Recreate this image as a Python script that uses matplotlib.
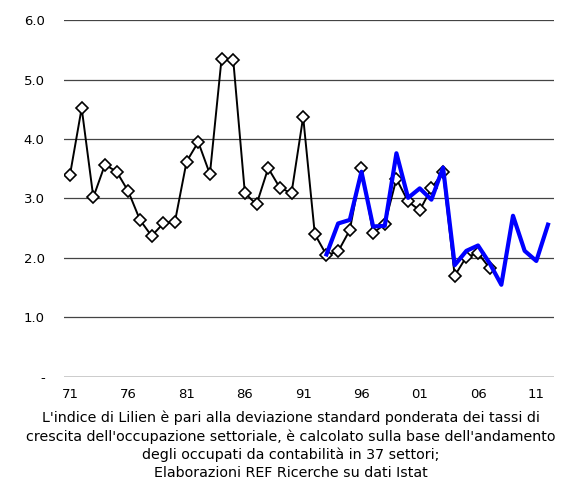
import numpy as np
import matplotlib
matplotlib.use("Agg")
import matplotlib.pyplot as plt

# Indice di Lilien
years_old = list(range(1971, 2008))
lilien_old = [3.40, 4.52, 3.02, 3.57, 3.45, 3.12, 2.64, 2.37, 2.58, 2.61,
              3.62, 3.95, 3.41, 5.35, 5.33, 3.09, 2.90, 3.51, 3.18, 3.09,
              4.37, 2.40, 2.05, 2.11, 2.47, 3.51, 2.42, 2.57, 3.33, 2.95,
              2.80, 3.17, 3.44, 1.70, 2.02, 2.08, 1.83]

years_new = list(range(1993, 2013))
lilien_new = [2.06, 2.58, 2.64, 3.45, 2.53, 2.54, 3.76, 3.01, 3.17, 2.98,
              3.52, 1.88, 2.12, 2.21, 1.91, 1.55, 2.71, 2.12, 1.95, 2.56]

xtick_years = [1971, 1976, 1981, 1986, 1991, 1996, 2001, 2006, 2011]
xtick_labels = ["71", "76", "81", "86", "91", "96", "01", "06", "11"]
ytick_vals = [0, 1, 2, 3, 4, 5, 6]
ytick_labels = ["-", "1.0", "2.0", "3.0", "4.0", "5.0", "6.0"]

caption = ("L'indice di Lilien è pari alla deviazione standard ponderata dei tassi di\n"
           "crescita dell'occupazione settoriale, è calcolato sulla base dell'andamento\n"
           "degli occupati da contabilità in 37 settori;\n"
           "Elaborazioni REF Ricerche su dati Istat")

plt.rcParams['font.family'] = ['DejaVu Sans']

fig = plt.figure(figsize=(5.68, 4.88), dpi=100)
ax = fig.add_axes([0.113, 0.2275, 0.862, 0.7315])

for y in ytick_vals[1:]:
    ax.axhline(y, color='#444444', lw=0.9, zorder=1)
ax.axhline(0, color='black', lw=1.0, zorder=1)

# vecchia serie: rombi bianchi
ax.plot(years_old, lilien_old, color='black', lw=1.4, zorder=2,
        marker='D', markersize=6, markerfacecolor='white',
        markeredgecolor='black', markeredgewidth=1.2)
# nuova serie: quadrati scuri (prova senza marcatori)
ax.plot(years_new, lilien_new, color='blue', lw=3, zorder=4)

ax.set_xlim(1970.5, 2012.5)
ax.set_ylim(0, 6)
ax.set_xticks(xtick_years)
ax.set_xticklabels(xtick_labels, fontsize=9.5)
ax.set_yticks(ytick_vals)
ax.set_yticklabels(ytick_labels, fontsize=9.5)
ax.tick_params(axis='x', length=0, pad=8)
ax.tick_params(axis='y', length=0, pad=14)
for s in ax.spines.values():
    s.set_visible(False)

fig.text(0.512, 0.158, caption, ha='center', va='top', fontsize=10.3, linespacing=1.33)

fig.savefig("out.png", dpi=100)
